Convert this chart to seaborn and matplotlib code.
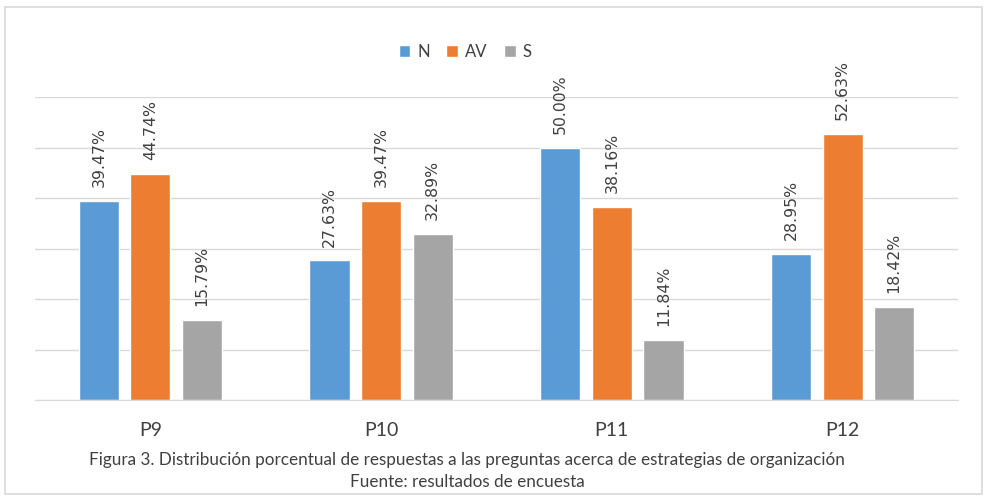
import numpy as np
import pandas as pd
import matplotlib
matplotlib.use("Agg")
import matplotlib.pyplot as plt
import seaborn as sns
from matplotlib.patches import Rectangle

preguntas = ["P9", "P10", "P11", "P12"]
respuestas = ["N", "AV", "S"]
valores_n = [39.47, 27.63, 50.00, 28.95]
valores_av = [44.74, 39.47, 38.16, 52.63]
valores_s = [15.79, 32.89, 11.84, 18.42]
colores = ["#5B9BD5", "#ED7D31", "#A5A5A5"]

df = pd.DataFrame({
    "pregunta": preguntas * 3,
    "respuesta": ["N"] * 4 + ["AV"] * 4 + ["S"] * 4,
    "valor": valores_n + valores_av + valores_s,
})

sns.set_style("white")
plt.rcParams["font.family"] = ["Lato", "DejaVu Sans"]

fig = plt.figure(figsize=(9.86, 4.97), dpi=100)
ax = fig.add_axes([35 / 986, 97 / 497, 923 / 986, 303 / 497])

sns.barplot(data=df, x="pregunta", y="valor", hue="respuesta",
            order=preguntas, hue_order=respuestas, palette=colores,
            width=0.67, gap=0.22, saturation=1, ax=ax, legend=True)

for cont in ax.containers:
    labels = [f"{v:.2f}%" for v in cont.datavalues]
    ax.bar_label(cont, labels=labels, rotation=90, padding=10,
                 fontsize=11.3, color="#404040", family="DejaVu Sans")

ax.set_ylim(0, 60)
ax.set_xlim(-0.5, 3.5)
ax.set_yticks(np.arange(0, 61, 10))
ax.set_yticklabels([])
ax.tick_params(axis="y", length=0)
ax.tick_params(axis="x", length=0, labelsize=14, labelcolor="#404040", pad=16)
ax.grid(axis="y", color="#D9D9D9", linewidth=1)
ax.set_axisbelow(True)
for s in ["top", "right", "left"]:
    ax.spines[s].set_visible(False)
ax.spines["bottom"].set_color("#D9D9D9")
ax.set_xlabel("")
ax.set_ylabel("")

ax.legend(loc="center", bbox_to_anchor=(465 / 986, 1 - 52 / 497),
          bbox_transform=fig.transFigure, ncol=3, frameon=False,
          handlelength=0.7, handleheight=0.7, handletextpad=0.4,
          columnspacing=1.0, fontsize=12, labelcolor="#404040")

fig.text(467 / 986, 1 - 460 / 497,
         "Figura 3. Distribución porcentual de respuestas a las preguntas acerca de estrategias de organización",
         ha="center", va="center", fontsize=12.3, color="#404040")
fig.text(467 / 986, 1 - 482 / 497, "Fuente: resultados de encuesta",
         ha="center", va="center", fontsize=12.3, color="#404040")

fig.patches.append(Rectangle((5 / 986, 3 / 497), 977 / 986, 487 / 497,
                             transform=fig.transFigure, fill=False,
                             edgecolor="#D9D9D9", linewidth=1.2))

fig.savefig("out.png", dpi=100)
